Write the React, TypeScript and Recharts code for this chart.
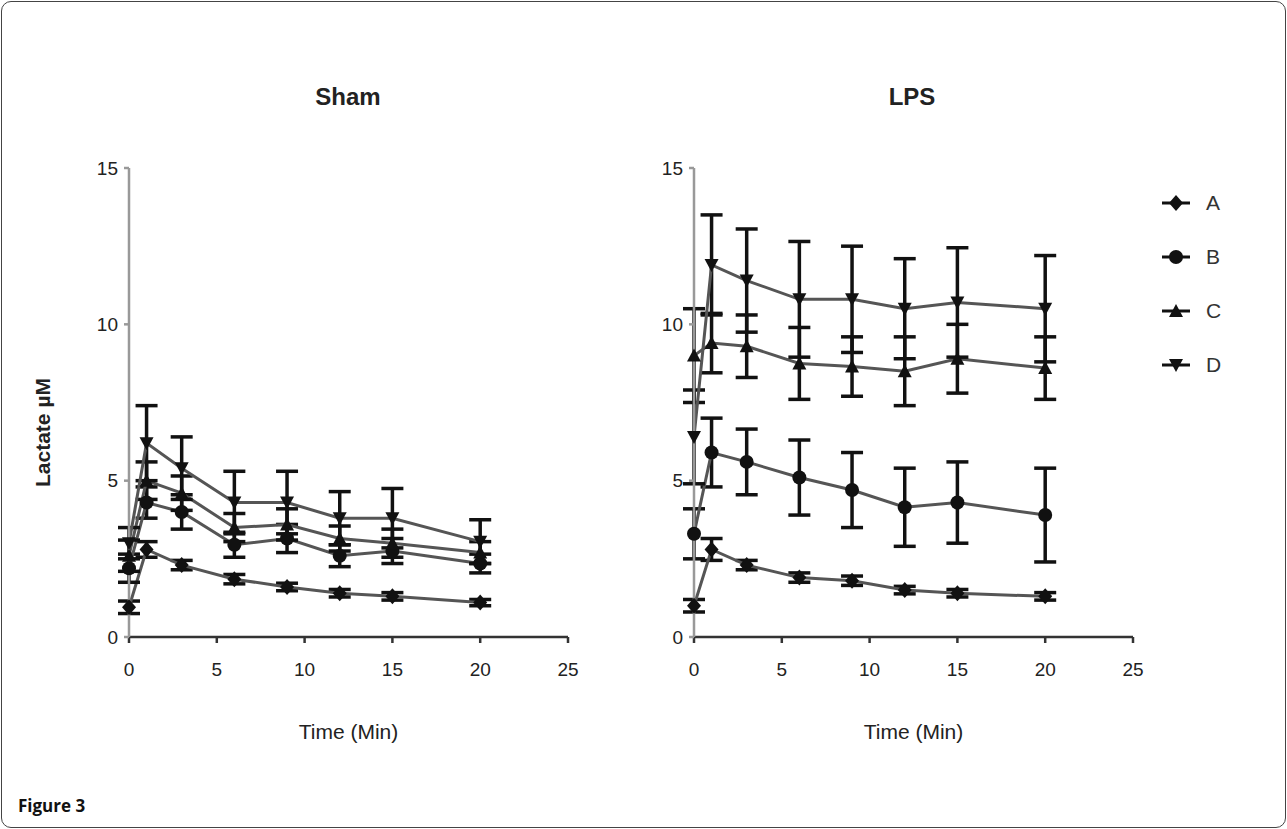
import React from 'react';
import { LineChart, Line, XAxis, YAxis, ErrorBar } from 'recharts';

// sampling times (min)
const times = [0, 1, 3, 6, 9, 12, 15, 20];

// Sham
const shamA = [0.95, 2.8, 2.3, 1.85, 1.6, 1.4, 1.3, 1.1];
const shamAErr = [0.2, 0.25, 0.15, 0.15, 0.12, 0.12, 0.12, 0.1];
const shamB = [2.2, 4.3, 4.0, 2.95, 3.15, 2.6, 2.75, 2.35];
const shamBErr = [0.45, 0.5, 0.55, 0.4, 0.45, 0.35, 0.4, 0.3];
const shamC = [2.6, 5.0, 4.6, 3.5, 3.6, 3.15, 3.0, 2.7];
const shamCErr = [0.5, 0.6, 0.55, 0.45, 0.5, 0.4, 0.45, 0.35];
const shamD = [3.0, 6.2, 5.4, 4.3, 4.3, 3.8, 3.8, 3.05];
const shamDErr = [0.5, 1.2, 1.0, 1.0, 1.0, 0.85, 0.95, 0.7];

// LPS
const lpsA = [1.0, 2.8, 2.3, 1.9, 1.8, 1.5, 1.4, 1.3];
const lpsAErr = [0.2, 0.35, 0.15, 0.15, 0.15, 0.12, 0.12, 0.12];
const lpsB = [3.3, 5.9, 5.6, 5.1, 4.7, 4.15, 4.3, 3.9];
const lpsBErr = [0.8, 1.1, 1.05, 1.2, 1.2, 1.25, 1.3, 1.5];
const lpsC = [9.0, 9.4, 9.3, 8.75, 8.65, 8.5, 8.9, 8.6];
const lpsCErr = [1.5, 0.95, 1.0, 1.15, 0.95, 1.1, 1.1, 1.0];
const lpsD = [6.4, 11.9, 11.4, 10.8, 10.8, 10.5, 10.7, 10.5];
const lpsDErr = [1.5, 1.6, 1.65, 1.85, 1.7, 1.6, 1.75, 1.7];

const xTicks = [0, 5, 10, 15, 20, 25];
const yTicks = [0, 5, 10, 15];
const seriesNames = ['A', 'B', 'C', 'D'];

const build = (a: number[], ae: number[], b: number[], be: number[], c: number[], ce: number[], d: number[], de: number[]) =>
  times.map((t, i) => ({ t, A: a[i], Aerr: ae[i], B: b[i], Berr: be[i], C: c[i], Cerr: ce[i], D: d[i], Derr: de[i] }));

const shamData = build(shamA, shamAErr, shamB, shamBErr, shamC, shamCErr, shamD, shamDErr);
const lpsData = build(lpsA, lpsAErr, lpsB, lpsBErr, lpsC, lpsCErr, lpsD, lpsDErr);

const FONT = '"Liberation Sans", Arial, sans-serif';
const LINE = '#555';
const MARK = '#111';

const markerPath = (name: string, cx: number, cy: number) => {
  const r = 7;
  if (name === 'A') return `M${cx},${cy - r - 1} L${cx + r},${cy} L${cx},${cy + r + 1} L${cx - r},${cy} Z`;
  if (name === 'C') return `M${cx},${cy - r} L${cx + r},${cy + r - 1} L${cx - r},${cy + r - 1} Z`;
  if (name === 'D') return `M${cx - r},${cy - r + 1} L${cx + r},${cy - r + 1} L${cx},${cy + r} Z`;
  return '';
};

const makeDot = (name: string) => (props: any) => {
  const { cx, cy, index } = props;
  if (cx == null || cy == null) return <g key={`${name}-${index}`} />;
  if (name === 'B') return <circle key={`${name}-${index}`} cx={cx} cy={cy} r={7} fill={MARK} />;
  return <path key={`${name}-${index}`} d={markerPath(name, cx, cy)} fill={MARK} />;
};

const YLabel = (props: any) => {
  const vb = props.viewBox || {};
  const x = 42;
  const y = vb.y + vb.height / 2 + 30;
  return (
    <text x={x} y={y} transform={`rotate(-90, ${x}, ${y})`} textAnchor="middle" dominantBaseline="central"
      fontFamily={FONT} fontWeight="bold" fontSize={21} fill="#222">
      Lactate µM
    </text>
  );
};

function Panel({ data, showYLabel }: { data: any[]; showYLabel: boolean }) {
  return (
    <LineChart width={640} height={829} data={data} margin={{ top: 168, right: 72, bottom: 82, left: 69 }}>
      <XAxis
        dataKey="t"
        type="number"
        domain={[0, 25]}
        ticks={xTicks}
        stroke="#333"
        strokeWidth={2.5}
        tickSize={6}
        tickMargin={20}
        height={110}
        tick={{ fontSize: 19, fill: '#222', fontFamily: FONT }}
        label={{ value: 'Time (Min)', position: 'insideBottom', offset: 8, fontSize: 21, fill: '#222', fontFamily: FONT }}
      />
      <YAxis
        type="number"
        domain={[0, 15]}
        ticks={yTicks}
        width={60}
        stroke="#999"
        strokeWidth={2.5}
        tickSize={5}
        tickMargin={6}
        tick={{ fontSize: 19, fill: '#222', fontFamily: FONT }}
        label={showYLabel ? <YLabel /> : undefined}
      />
      {seriesNames.map((n) => (
        <Line
          key={n}
          dataKey={n}
          type="linear"
          stroke={LINE}
          strokeWidth={3}
          dot={makeDot(n)}
          activeDot={false}
          isAnimationActive={false}
        >
          <ErrorBar dataKey={`${n}err`} direction="y" width={11} stroke={MARK} strokeWidth={3.5} />
        </Line>
      ))}
    </LineChart>
  );
}

function LegendItem({ name }: { name: string }) {
  return (
    <div style={{ display: 'flex', alignItems: 'center', height: 54 }}>
      <svg width={36} height={20}>
        <line x1={4} y1={10} x2={32} y2={10} stroke={MARK} strokeWidth={3} />
        {name === 'B' ? <circle cx={18} cy={10} r={7} fill={MARK} /> : <path d={markerPath(name, 18, 10)} fill={MARK} />}
      </svg>
      <span style={{ marginLeft: 12, fontFamily: FONT, fontSize: 21, color: '#333' }}>{name}</span>
    </div>
  );
}

export default function App() {
  return (
    <div style={{ position: 'absolute', left: 0, top: 0, width: 1287, height: 829, background: '#fff', overflow: 'hidden' }}>
      <div style={{ position: 'absolute', left: 1, top: 1, width: 1283, height: 825, border: '1px solid #444', borderRadius: 10 }} />
      <div style={{ position: 'absolute', left: 0, top: 0 }}>
        <Panel data={shamData} showYLabel={true} />
      </div>
      <div style={{ position: 'absolute', left: 565, top: 0 }}>
        <Panel data={lpsData} showYLabel={false} />
      </div>
      <div style={{ position: 'absolute', left: 248, top: 83, width: 200, textAlign: 'center', fontFamily: FONT, fontWeight: 'bold', fontSize: 24, color: '#222' }}>
        Sham
      </div>
      <div style={{ position: 'absolute', left: 812, top: 83, width: 200, textAlign: 'center', fontFamily: FONT, fontWeight: 'bold', fontSize: 24, color: '#222' }}>
        LPS
      </div>
      <div style={{ position: 'absolute', left: 1158, top: 176 }}>
        {seriesNames.map((n) => (
          <LegendItem key={n} name={n} />
        ))}
      </div>
      <div style={{ position: 'absolute', left: 18, top: 794, fontFamily: '"Open Sans", sans-serif', fontWeight: 'bold', fontSize: 17, color: '#111' }}>
        Figure 3
      </div>
    </div>
  );
}
